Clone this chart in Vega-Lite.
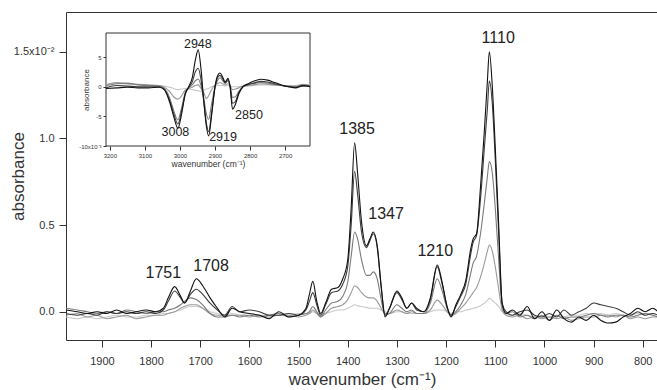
{
  "$schema": "https://vega.github.io/schema/vega-lite/v6.json",
  "width": 592,
  "height": 328,
  "autosize": "none",
  "padding": {"left": 66, "top": 12, "right": 0, "bottom": 50},
  "background": "white",
  "config": {
    "font": "Liberation Sans",
    "view": {"stroke": "#333333", "strokeWidth": 1},
    "axis": {"grid": false, "domain": false, "tickColor": "#333333", "labelColor": "#333333", "titleColor": "#333333", "titleFontWeight": "normal", "labelFont": "Liberation Sans", "titleFont": "Liberation Sans"}
  },
  "datasets": {
    "main": [
      {"w":1973,"s5":0.01,"s4":-0.01,"s3":0.02,"s2":-0.02,"s1":-0.03},
      {"w":1950,"s5":0.00,"s4":-0.02,"s3":0.01,"s2":-0.01,"s1":-0.04},
      {"w":1930,"s5":-0.01,"s4":-0.01,"s3":0.00,"s2":-0.03,"s1":-0.03},
      {"w":1910,"s5":0.00,"s4":-0.02,"s3":-0.01,"s2":-0.02,"s1":-0.04},
      {"w":1890,"s5":-0.01,"s4":0.00,"s3":0.00,"s2":-0.04,"s1":-0.03},
      {"w":1870,"s5":0.01,"s4":-0.01,"s3":-0.01,"s2":-0.03,"s1":-0.02},
      {"w":1850,"s5":-0.01,"s4":0.00,"s3":0.01,"s2":-0.02,"s1":-0.03},
      {"w":1830,"s5":0.00,"s4":-0.01,"s3":0.00,"s2":-0.04,"s1":-0.03},
      {"w":1810,"s5":0.01,"s4":0.00,"s3":-0.01,"s2":-0.03,"s1":-0.02},
      {"w":1790,"s5":0.00,"s4":-0.01,"s3":0.00,"s2":-0.02,"s1":-0.02},
      {"w":1775,"s5":0.02,"s4":0.01,"s3":0.00,"s2":-0.02,"s1":-0.01},
      {"w":1765,"s5":0.08,"s4":0.06,"s3":0.01,"s2":-0.01,"s1":-0.01},
      {"w":1752,"s5":0.145,"s4":0.12,"s3":0.02,"s2":0.00,"s1":0.00},
      {"w":1740,"s5":0.09,"s4":0.08,"s3":0.04,"s2":0.02,"s1":0.01},
      {"w":1732,"s5":0.05,"s4":0.05,"s3":0.06,"s2":0.03,"s1":0.02},
      {"w":1720,"s5":0.12,"s4":0.10,"s3":0.08,"s2":0.04,"s1":0.03},
      {"w":1708,"s5":0.19,"s4":0.13,"s3":0.07,"s2":0.04,"s1":0.03},
      {"w":1695,"s5":0.15,"s4":0.10,"s3":0.04,"s2":0.02,"s1":0.02},
      {"w":1680,"s5":0.08,"s4":0.05,"s3":-0.01,"s2":-0.01,"s1":0.00},
      {"w":1665,"s5":0.02,"s4":0.01,"s3":-0.03,"s2":-0.02,"s1":-0.01},
      {"w":1650,"s5":-0.03,"s4":-0.02,"s3":-0.03,"s2":-0.02,"s1":-0.02},
      {"w":1635,"s5":0.02,"s4":0.03,"s3":-0.02,"s2":-0.02,"s1":-0.01},
      {"w":1620,"s5":0.00,"s4":0.00,"s3":-0.03,"s2":-0.02,"s1":-0.02},
      {"w":1600,"s5":-0.01,"s4":0.01,"s3":-0.02,"s2":-0.03,"s1":-0.01},
      {"w":1580,"s5":-0.02,"s4":0.00,"s3":-0.03,"s2":-0.02,"s1":-0.02},
      {"w":1560,"s5":-0.04,"s4":-0.02,"s3":-0.02,"s2":-0.03,"s1":-0.02},
      {"w":1540,"s5":0.00,"s4":-0.02,"s3":-0.01,"s2":-0.02,"s1":-0.01},
      {"w":1520,"s5":-0.03,"s4":-0.01,"s3":-0.03,"s2":-0.02,"s1":-0.02},
      {"w":1500,"s5":-0.02,"s4":-0.02,"s3":-0.02,"s2":-0.03,"s1":-0.01},
      {"w":1485,"s5":0.02,"s4":0.01,"s3":-0.01,"s2":-0.02,"s1":-0.01},
      {"w":1478,"s5":0.10,"s4":0.06,"s3":0.00,"s2":-0.01,"s1":-0.01},
      {"w":1471,"s5":0.175,"s4":0.11,"s3":0.03,"s2":0.01,"s1":0.00},
      {"w":1463,"s5":0.06,"s4":0.04,"s3":0.00,"s2":-0.01,"s1":-0.01},
      {"w":1455,"s5":-0.01,"s4":-0.02,"s3":-0.03,"s2":-0.03,"s1":-0.02},
      {"w":1445,"s5":0.05,"s4":0.04,"s3":0.01,"s2":-0.01,"s1":-0.01},
      {"w":1433,"s5":0.13,"s4":0.11,"s3":0.05,"s2":0.02,"s1":0.00},
      {"w":1420,"s5":0.14,"s4":0.12,"s3":0.06,"s2":0.03,"s1":0.01},
      {"w":1410,"s5":0.19,"s4":0.16,"s3":0.09,"s2":0.04,"s1":0.01},
      {"w":1400,"s5":0.30,"s4":0.26,"s3":0.17,"s2":0.07,"s1":0.02},
      {"w":1393,"s5":0.60,"s4":0.50,"s3":0.32,"s2":0.11,"s1":0.03},
      {"w":1386,"s5":0.975,"s4":0.81,"s3":0.46,"s2":0.15,"s1":0.04},
      {"w":1380,"s5":0.80,"s4":0.68,"s3":0.42,"s2":0.14,"s1":0.035},
      {"w":1372,"s5":0.52,"s4":0.46,"s3":0.30,"s2":0.11,"s1":0.03},
      {"w":1362,"s5":0.38,"s4":0.37,"s3":0.21,"s2":0.085,"s1":0.025},
      {"w":1355,"s5":0.42,"s4":0.41,"s3":0.21,"s2":0.08,"s1":0.02},
      {"w":1348,"s5":0.46,"s4":0.45,"s3":0.23,"s2":0.08,"s1":0.02},
      {"w":1340,"s5":0.38,"s4":0.37,"s3":0.19,"s2":0.06,"s1":0.02},
      {"w":1332,"s5":0.15,"s4":0.14,"s3":0.07,"s2":0.02,"s1":0.01},
      {"w":1324,"s5":-0.03,"s4":-0.02,"s3":-0.02,"s2":-0.01,"s1":0.00},
      {"w":1315,"s5":0.02,"s4":0.02,"s3":-0.01,"s2":-0.01,"s1":-0.01},
      {"w":1300,"s5":0.12,"s4":0.11,"s3":0.04,"s2":0.01,"s1":0.00},
      {"w":1290,"s5":0.08,"s4":0.07,"s3":0.02,"s2":0.00,"s1":0.00},
      {"w":1280,"s5":0.02,"s4":0.02,"s3":0.00,"s2":-0.01,"s1":-0.01},
      {"w":1270,"s5":0.05,"s4":0.05,"s3":0.01,"s2":0.00,"s1":-0.01},
      {"w":1260,"s5":0.02,"s4":0.01,"s3":-0.01,"s2":-0.01,"s1":-0.01},
      {"w":1245,"s5":0.00,"s4":0.00,"s3":-0.01,"s2":-0.01,"s1":-0.01},
      {"w":1232,"s5":0.08,"s4":0.07,"s3":0.05,"s2":0.01,"s1":0.00},
      {"w":1218,"s5":0.27,"s4":0.26,"s3":0.19,"s2":0.067,"s1":0.01},
      {"w":1208,"s5":0.17,"s4":0.16,"s3":0.12,"s2":0.04,"s1":0.01},
      {"w":1198,"s5":0.03,"s4":0.03,"s3":0.02,"s2":0.00,"s1":0.00},
      {"w":1190,"s5":-0.03,"s4":-0.02,"s3":-0.02,"s2":-0.02,"s1":-0.01},
      {"w":1180,"s5":0.04,"s4":0.03,"s3":0.00,"s2":-0.01,"s1":0.00},
      {"w":1170,"s5":0.10,"s4":0.09,"s3":0.04,"s2":0.02,"s1":0.00},
      {"w":1160,"s5":0.18,"s4":0.16,"s3":0.10,"s2":0.05,"s1":0.01},
      {"w":1150,"s5":0.36,"s4":0.33,"s3":0.22,"s2":0.09,"s1":0.015},
      {"w":1145,"s5":0.42,"s4":0.40,"s3":0.28,"s2":0.11,"s1":0.02},
      {"w":1138,"s5":0.45,"s4":0.44,"s3":0.32,"s2":0.14,"s1":0.025},
      {"w":1130,"s5":0.72,"s4":0.65,"s3":0.45,"s2":0.20,"s1":0.035},
      {"w":1122,"s5":1.05,"s4":0.95,"s3":0.63,"s2":0.28,"s1":0.05},
      {"w":1116,"s5":1.33,"s4":1.17,"s3":0.78,"s2":0.35,"s1":0.065},
      {"w":1112,"s5":1.50,"s4":1.33,"s3":0.866,"s2":0.385,"s1":0.077},
      {"w":1106,"s5":1.30,"s4":1.20,"s3":0.80,"s2":0.35,"s1":0.065},
      {"w":1100,"s5":0.95,"s4":0.88,"s3":0.60,"s2":0.26,"s1":0.05},
      {"w":1093,"s5":0.50,"s4":0.45,"s3":0.30,"s2":0.13,"s1":0.03},
      {"w":1086,"s5":0.05,"s4":0.05,"s3":0.03,"s2":0.01,"s1":0.00},
      {"w":1078,"s5":-0.01,"s4":0.00,"s3":-0.01,"s2":-0.02,"s1":-0.01},
      {"w":1065,"s5":0.01,"s4":-0.02,"s3":0.00,"s2":-0.03,"s1":-0.02},
      {"w":1050,"s5":-0.02,"s4":0.00,"s3":-0.03,"s2":-0.02,"s1":-0.01},
      {"w":1035,"s5":0.03,"s4":0.01,"s3":-0.02,"s2":-0.04,"s1":-0.02},
      {"w":1020,"s5":-0.04,"s4":-0.02,"s3":-0.04,"s2":-0.03,"s1":-0.03},
      {"w":1005,"s5":0.00,"s4":-0.03,"s3":-0.02,"s2":-0.04,"s1":-0.03},
      {"w":990,"s5":-0.05,"s4":-0.01,"s3":-0.05,"s2":-0.03,"s1":-0.03},
      {"w":975,"s5":0.01,"s4":-0.03,"s3":-0.02,"s2":-0.04,"s1":-0.02},
      {"w":960,"s5":-0.04,"s4":0.01,"s3":-0.04,"s2":-0.03,"s1":-0.03},
      {"w":945,"s5":-0.06,"s4":-0.02,"s3":-0.03,"s2":-0.05,"s1":-0.02},
      {"w":930,"s5":-0.03,"s4":0.00,"s3":-0.03,"s2":-0.04,"s1":-0.02},
      {"w":915,"s5":-0.05,"s4":0.02,"s3":-0.02,"s2":-0.03,"s1":-0.01},
      {"w":900,"s5":-0.02,"s4":0.05,"s3":-0.01,"s2":-0.03,"s1":-0.02},
      {"w":885,"s5":-0.05,"s4":0.04,"s3":-0.02,"s2":-0.02,"s1":-0.01},
      {"w":870,"s5":-0.065,"s4":0.03,"s3":-0.03,"s2":-0.02,"s1":-0.02},
      {"w":855,"s5":-0.06,"s4":0.02,"s3":-0.02,"s2":-0.03,"s1":-0.01},
      {"w":840,"s5":-0.03,"s4":0.00,"s3":-0.02,"s2":-0.02,"s1":-0.02},
      {"w":825,"s5":-0.01,"s4":-0.02,"s3":-0.03,"s2":-0.04,"s1":-0.02},
      {"w":810,"s5":0.02,"s4":0.00,"s3":-0.02,"s2":-0.03,"s1":-0.01},
      {"w":795,"s5":0.00,"s4":-0.02,"s3":-0.01,"s2":-0.04,"s1":-0.02},
      {"w":780,"s5":0.02,"s4":-0.01,"s3":-0.02,"s2":-0.03,"s1":-0.01},
      {"w":769,"s5":0.00,"s4":-0.02,"s3":-0.03,"s2":-0.03,"s1":-0.02}
    ],
    "inset": [
      {"w":3211,"s5":-0.3,"s4":-0.2,"s3":0.2,"s2":0.3,"s1":0.4},
      {"w":3180,"s5":-0.2,"s4":0.2,"s3":0.5,"s2":0.7,"s1":0.6},
      {"w":3150,"s5":-0.1,"s4":0.1,"s3":0.6,"s2":0.5,"s1":0.4},
      {"w":3120,"s5":-0.2,"s4":0.0,"s3":0.3,"s2":0.4,"s1":0.3},
      {"w":3090,"s5":-0.2,"s4":0.0,"s3":0.2,"s2":0.3,"s1":0.2},
      {"w":3060,"s5":-0.1,"s4":0.0,"s3":0.1,"s2":0.2,"s1":0.2},
      {"w":3045,"s5":-0.5,"s4":-0.4,"s3":-0.3,"s2":-0.1,"s1":0.1},
      {"w":3030,"s5":-2.5,"s4":-2.2,"s3":-1.8,"s2":-0.8,"s1":-0.1},
      {"w":3018,"s5":-5.0,"s4":-4.5,"s3":-4.0,"s2":-1.7,"s1":-0.3},
      {"w":3006,"s5":-7.0,"s4":-6.3,"s3":-5.6,"s2":-2.1,"s1":-0.5},
      {"w":2995,"s5":-4.5,"s4":-4.0,"s3":-3.5,"s2":-1.5,"s1":-0.4},
      {"w":2985,"s5":-1.3,"s4":-1.2,"s3":-1.0,"s2":-0.6,"s1":-0.3},
      {"w":2975,"s5":0.0,"s4":-0.1,"s3":-0.2,"s2":-0.3,"s1":-0.4},
      {"w":2965,"s5":1.5,"s4":0.8,"s3":0.3,"s2":-0.1,"s1":-0.5},
      {"w":2956,"s5":4.5,"s4":2.5,"s3":1.0,"s2":0.2,"s1":-0.6},
      {"w":2948,"s5":6.2,"s4":3.1,"s3":1.3,"s2":0.3,"s1":-0.7},
      {"w":2940,"s5":3.0,"s4":1.2,"s3":0.2,"s2":-0.3,"s1":-0.8},
      {"w":2932,"s5":-2.5,"s4":-2.5,"s3":-2.0,"s2":-1.0,"s1":-0.6},
      {"w":2925,"s5":-6.5,"s4":-6.0,"s3":-4.5,"s2":-2.0,"s1":-0.4},
      {"w":2918,"s5":-8.3,"s4":-7.6,"s3":-5.5,"s2":-1.5,"s1":-0.3},
      {"w":2910,"s5":-5.0,"s4":-4.5,"s3":-3.0,"s2":-0.5,"s1":0.0},
      {"w":2900,"s5":0.0,"s4":-0.2,"s3":0.0,"s2":0.3,"s1":0.1},
      {"w":2893,"s5":1.8,"s4":1.5,"s3":1.0,"s2":0.5,"s1":0.2},
      {"w":2886,"s5":2.3,"s4":1.9,"s3":1.5,"s2":0.7,"s1":0.2},
      {"w":2878,"s5":1.6,"s4":1.3,"s3":1.0,"s2":0.5,"s1":0.2},
      {"w":2871,"s5":0.8,"s4":0.6,"s3":0.6,"s2":0.3,"s1":0.1},
      {"w":2863,"s5":1.4,"s4":1.2,"s3":1.0,"s2":0.5,"s1":0.2},
      {"w":2857,"s5":0.0,"s4":0.0,"s3":0.2,"s2":0.2,"s1":0.1},
      {"w":2850,"s5":-3.8,"s4":-2.8,"s3":-1.8,"s2":-0.5,"s1":0.0},
      {"w":2842,"s5":-3.0,"s4":-2.5,"s3":-1.7,"s2":-0.4,"s1":0.0},
      {"w":2832,"s5":-1.2,"s4":-1.0,"s3":-0.8,"s2":-0.2,"s1":0.0},
      {"w":2820,"s5":0.0,"s4":0.0,"s3":0.0,"s2":0.1,"s1":0.1},
      {"w":2805,"s5":0.5,"s4":0.4,"s3":0.3,"s2":0.2,"s1":0.1},
      {"w":2790,"s5":0.9,"s4":0.6,"s3":0.5,"s2":0.3,"s1":0.2},
      {"w":2770,"s5":1.25,"s4":0.9,"s3":0.7,"s2":0.5,"s1":0.3},
      {"w":2750,"s5":1.1,"s4":0.8,"s3":0.6,"s2":0.4,"s1":0.3},
      {"w":2730,"s5":0.7,"s4":0.5,"s3":0.4,"s2":0.3,"s1":0.2},
      {"w":2710,"s5":0.3,"s4":0.2,"s3":0.2,"s2":0.2,"s1":0.2},
      {"w":2690,"s5":0.0,"s4":0.0,"s3":0.1,"s2":0.1,"s1":0.1},
      {"w":2670,"s5":-0.2,"s4":-0.1,"s3":0.0,"s2":0.1,"s1":0.2},
      {"w":2650,"s5":0.2,"s4":0.1,"s3":0.3,"s2":0.3,"s1":0.4},
      {"w":2629,"s5":0.0,"s4":0.1,"s3":0.2,"s2":0.2,"s1":0.3}
    ],
    "mainLabels": [
      {"t":"1751","w":1775,"v":0.223},
      {"t":"1708","w":1678,"v":0.264},
      {"t":"1385","w":1381,"v":1.054},
      {"t":"1347","w":1322,"v":0.564},
      {"t":"1210","w":1222,"v":0.35},
      {"t":"1110","w":1094,"v":1.579}
    ],
    "insetLabels": [
      {"t":"2948","w":2949,"v":7.2},
      {"t":"3008","w":3013,"v":-7.6},
      {"t":"2919","w":2877,"v":-8.43},
      {"t":"2850","w":2803,"v":-4.77}
    ],
    "insetFrame": [
      {"x1":2629,"x2":3211,"y1":-10,"y2":9.05}
    ]
  },
  "layer": [
    {
      "layer": [
        {
          "data": {"name": "main"},
          "transform": [{"fold": ["s1","s2","s3","s4","s5"], "as": ["s","v"]}],
          "mark": {"type": "line", "interpolate": "monotone", "strokeWidth": 1.1, "clip": true},
          "encoding": {
            "x": {"field": "w", "type": "quantitative", "title": "wavenumber (cm⁻¹)",
                  "scale": {"domain": [769, 1973], "reverse": true, "nice": false, "zero": false},
                  "axis": {"orient": "bottom", "values": [1900,1800,1700,1600,1500,1400,1300,1200,1100,1000,900,800], "format": "d",
                           "titleFontSize": 17, "titlePadding": 5,
                           "labelFontSize": 11, "tickSize": 7, "labelPadding": 8}},
            "y": {"field": "v", "type": "quantitative", "title": "absorbance",
                  "scale": {"domain": [-0.163, 1.729], "nice": false, "zero": false},
                  "axis": {"values": [0, 0.5, 1.0, 1.5], "labelExpr": "datum.value == 1.5 ? '1.5x10⁻²' : format(datum.value, '.1f')",
                           "titleFontSize": 17, "titlePadding": -14,
                           "labelFontSize": 11, "tickSize": 7, "labelPadding": 5}},
            "color": {"field": "s", "type": "nominal",
                      "scale": {"domain": ["s1","s2","s3","s4","s5"], "range": ["#c8c8c8","#9a9a9a","#7a7a7a","#3c3c3c","#111111"]},
                      "legend": null}
          }
        },
        {
          "data": {"name": "mainLabels"},
          "mark": {"type": "text", "fontSize": 16, "align": "center", "baseline": "middle", "color": "#222222"},
          "encoding": {
            "x": {"field": "w", "type": "quantitative", "title": "wavenumber (cm⁻¹)"},
            "y": {"field": "v", "type": "quantitative", "title": "absorbance"},
            "text": {"field": "t"}
          }
        }
      ]
    },
    {
      "layer": [
        {
          "data": {"name": "insetFrame"},
          "mark": {"type": "rect", "fill": "white", "stroke": "#333333", "strokeWidth": 1},
          "encoding": {
            "x": {"field": "x1", "type": "quantitative", "title": "wavenumber (cm⁻¹)"},
            "x2": {"field": "x2"},
            "y": {"field": "y1", "type": "quantitative", "title": "absorbance"},
            "y2": {"field": "y2"}
          }
        },
        {
          "data": {"name": "inset"},
          "transform": [{"fold": ["s1","s2","s3","s4","s5"], "as": ["s","v"]}],
          "mark": {"type": "line", "interpolate": "monotone", "strokeWidth": 1.1},
          "encoding": {
            "x": {"field": "w", "type": "quantitative", "title": "wavenumber (cm⁻¹)",
                  "scale": {"domain": [2629, 3211], "range": [244, 40], "nice": false, "zero": false},
                  "axis": {"orient": "bottom", "offset": -194, "values": [3200,3100,3000,2900,2800,2700], "format": "d",
                           "titleFontSize": 8.5, "titlePadding": 1,
                           "labelFontSize": 6, "tickSize": 4, "labelPadding": 2}},
            "y": {"field": "v", "type": "quantitative", "title": "absorbance",
                  "scale": {"domain": [-10, 9.05], "range": [134, 21], "nice": false, "zero": false},
                  "axis": {"orient": "left", "offset": -40, "values": [-10, -5, 0, 5],
                           "labelExpr": "datum.value == -10 ? '-10x10⁻³' : '' + datum.value",
                           "titleFontSize": 8, "titlePadding": -12,
                           "labelFontSize": 6, "tickSize": 3, "labelPadding": 2}},
            "color": {"field": "s", "type": "nominal", "legend": null}
          }
        },
        {
          "data": {"name": "insetLabels"},
          "mark": {"type": "text", "fontSize": 12.5, "align": "center", "baseline": "middle", "color": "#222222"},
          "encoding": {
            "x": {"field": "w", "type": "quantitative", "title": "wavenumber (cm⁻¹)"},
            "y": {"field": "v", "type": "quantitative", "title": "absorbance"},
            "text": {"field": "t"}
          }
        }
      ]
    }
  ],
  "resolve": {"scale": {"x": "independent", "y": "independent"}, "axis": {"x": "independent", "y": "independent"}}
}
